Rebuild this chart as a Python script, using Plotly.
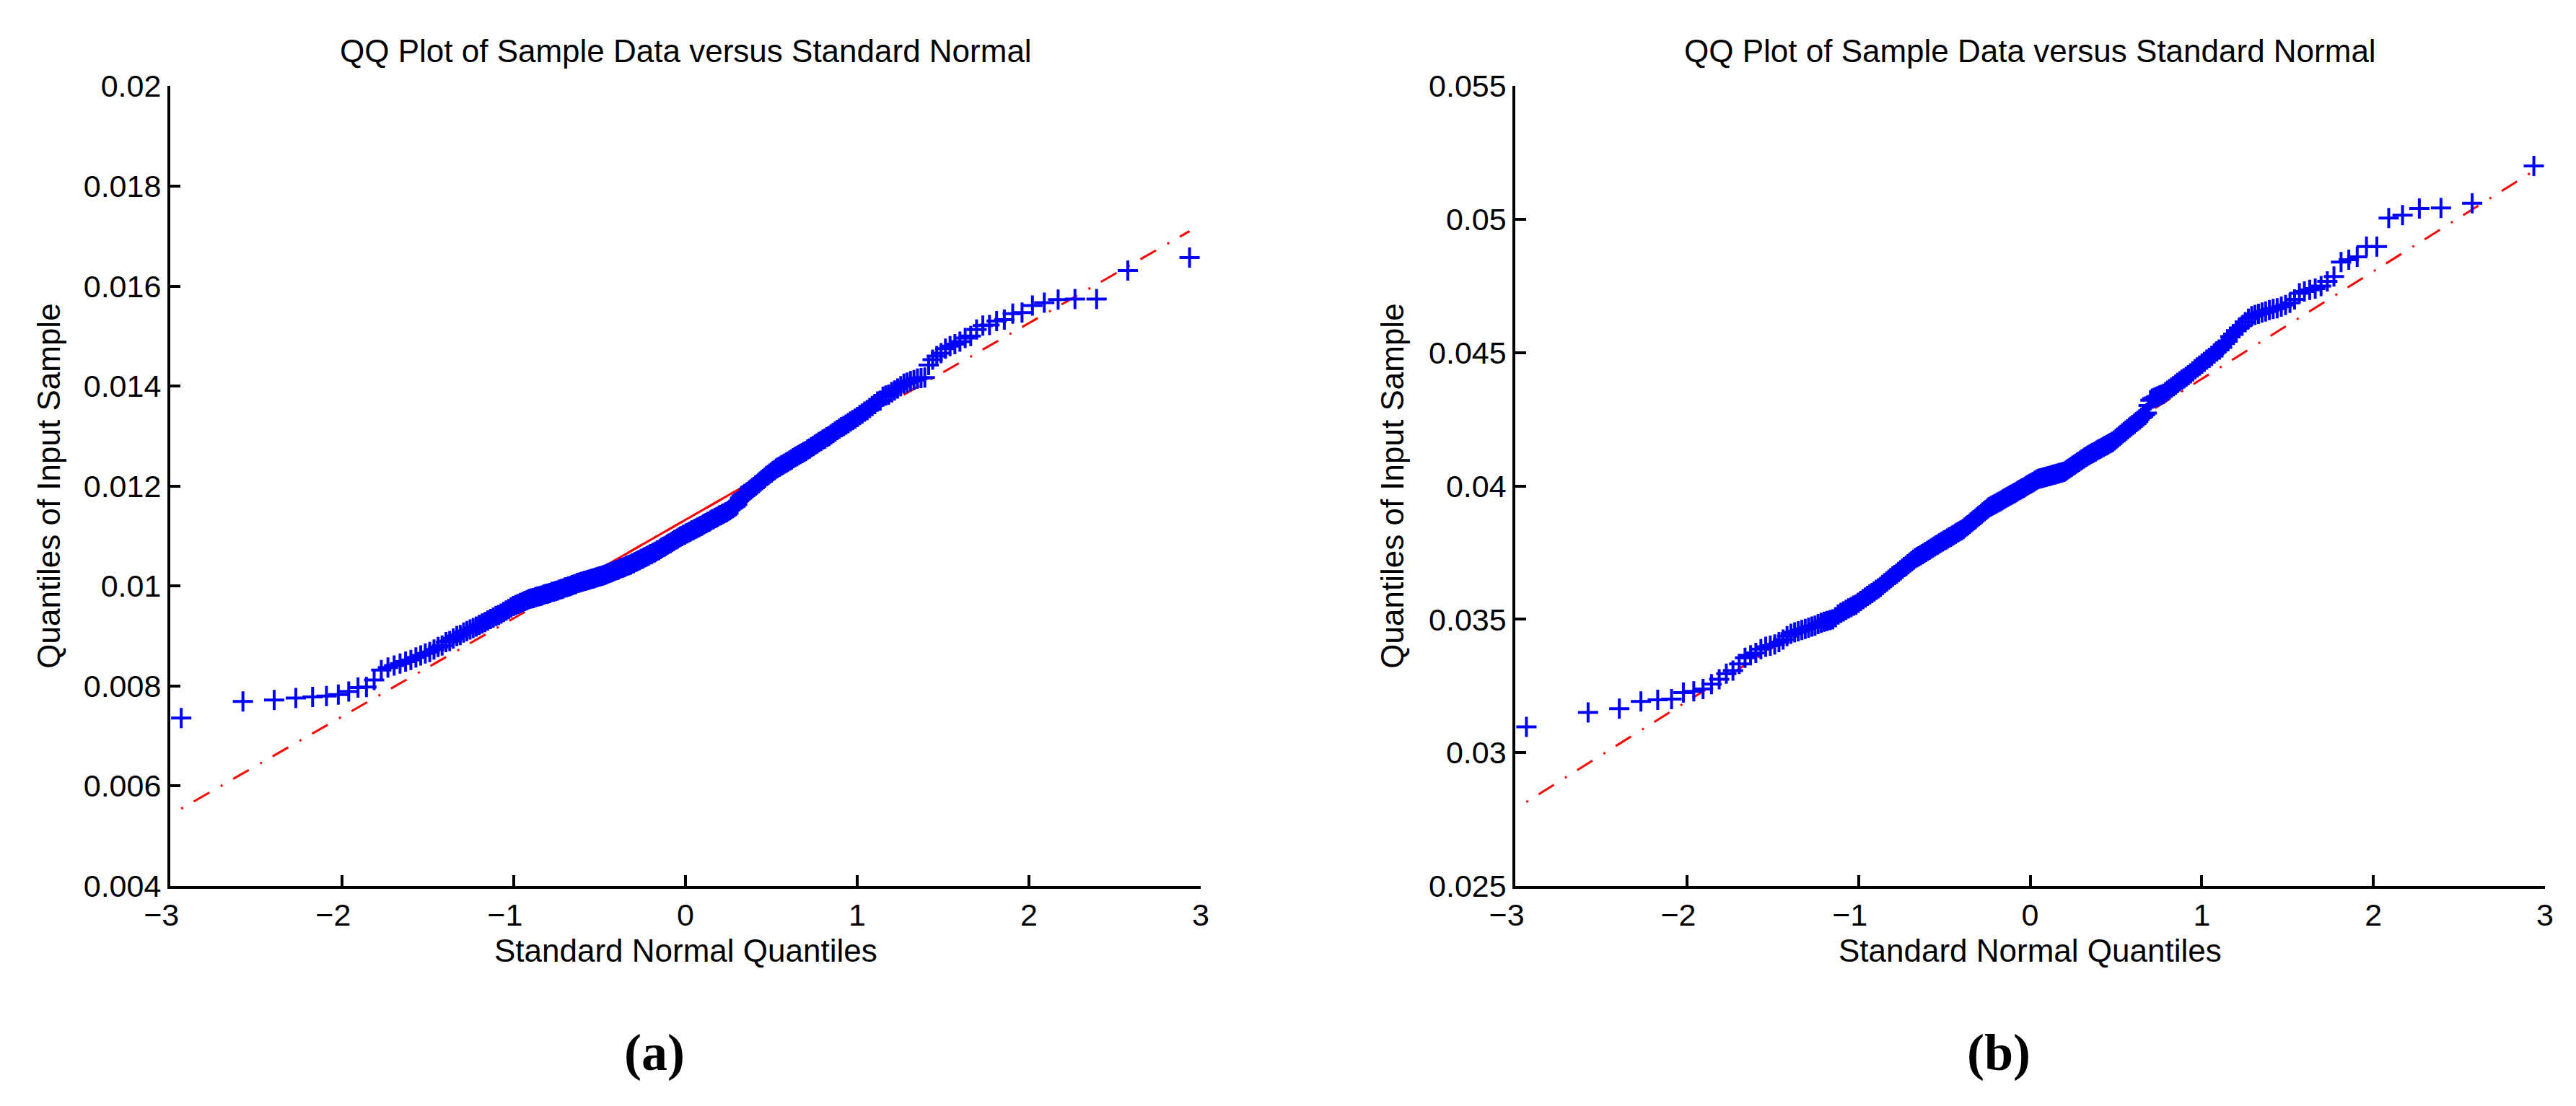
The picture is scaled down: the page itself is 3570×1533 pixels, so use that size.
import numpy as np
import plotly.graph_objects as go
from statistics import NormalDist

# ---------------- data (sorted sample quantiles) ----------------
sample_a = [
    0.00736, 0.00769, 0.00772, 0.00776, 0.00778, 0.00780, 0.00783, 0.00789, 0.00797, 0.00798,
    0.00812, 0.00832, 0.00837, 0.00841, 0.00845, 0.00849, 0.00852, 0.00857, 0.00861, 0.00865,
    0.00868, 0.00873, 0.00878, 0.00881, 0.00888, 0.00890, 0.00895, 0.00900, 0.00902, 0.00907,
    0.00910, 0.00913, 0.00916, 0.00919, 0.00922, 0.00925, 0.00928, 0.00931, 0.00934, 0.00937,
    0.00940, 0.00942, 0.00945, 0.00948, 0.00951, 0.00954, 0.00957, 0.00960, 0.00962, 0.00964,
    0.00966, 0.00968, 0.00970, 0.00972, 0.00974, 0.00975, 0.00976, 0.00978, 0.00979, 0.00980,
    0.00981, 0.00983, 0.00984, 0.00985, 0.00986, 0.00988, 0.00989, 0.00990, 0.00991, 0.00993,
    0.00994, 0.00995, 0.00997, 0.00998, 0.00999, 0.01000, 0.01002, 0.01003, 0.01004, 0.01006,
    0.01007, 0.01008, 0.01009, 0.01010, 0.01011, 0.01012, 0.01013, 0.01014, 0.01015, 0.01016,
    0.01017, 0.01018, 0.01019, 0.01020, 0.01021, 0.01022, 0.01023, 0.01025, 0.01026, 0.01027,
    0.01028, 0.01030, 0.01031, 0.01032, 0.01033, 0.01035, 0.01036, 0.01037, 0.01038, 0.01040,
    0.01041, 0.01042, 0.01043, 0.01045, 0.01046, 0.01048, 0.01049, 0.01051, 0.01052, 0.01054,
    0.01055, 0.01057, 0.01058, 0.01060, 0.01061, 0.01063, 0.01064, 0.01066, 0.01067, 0.01069,
    0.01071, 0.01072, 0.01074, 0.01076, 0.01078, 0.01079, 0.01081, 0.01083, 0.01085, 0.01086,
    0.01088, 0.01090, 0.01092, 0.01093, 0.01095, 0.01097, 0.01099, 0.01100, 0.01102, 0.01103,
    0.01105, 0.01106, 0.01108, 0.01109, 0.01111, 0.01112, 0.01114, 0.01115, 0.01117, 0.01118,
    0.01120, 0.01121, 0.01123, 0.01125, 0.01126, 0.01128, 0.01129, 0.01131, 0.01133, 0.01134,
    0.01136, 0.01137, 0.01139, 0.01141, 0.01142, 0.01144, 0.01145, 0.01147, 0.01148, 0.01150,
    0.01152, 0.01154, 0.01156, 0.01158, 0.01160, 0.01163, 0.01170, 0.01176, 0.01180, 0.01182,
    0.01184, 0.01186, 0.01188, 0.01191, 0.01193, 0.01196, 0.01198, 0.01201, 0.01203, 0.01206,
    0.01209, 0.01212, 0.01214, 0.01217, 0.01220, 0.01222, 0.01225, 0.01227, 0.01230, 0.01232,
    0.01235, 0.01237, 0.01239, 0.01241, 0.01243, 0.01245, 0.01247, 0.01249, 0.01251, 0.01253,
    0.01256, 0.01258, 0.01260, 0.01262, 0.01264, 0.01266, 0.01268, 0.01270, 0.01273, 0.01275,
    0.01278, 0.01280, 0.01283, 0.01285, 0.01288, 0.01290, 0.01293, 0.01295, 0.01298, 0.01300,
    0.01303, 0.01306, 0.01309, 0.01312, 0.01315, 0.01318, 0.01320, 0.01323, 0.01326, 0.01329,
    0.01332, 0.01335, 0.01338, 0.01342, 0.01345, 0.01349, 0.01352, 0.01356, 0.01360, 0.01364,
    0.01369, 0.01371, 0.01379, 0.01381, 0.01383, 0.01388, 0.01391, 0.01395, 0.01400, 0.01405,
    0.01407, 0.01410, 0.01412, 0.01415, 0.01416, 0.01417, 0.01442, 0.01453, 0.01460, 0.01466,
    0.01475, 0.01480, 0.01484, 0.01489, 0.01496, 0.01500, 0.01513, 0.01521, 0.01522, 0.01530,
    0.01533, 0.01545, 0.01547, 0.01561, 0.01567, 0.01573, 0.01574, 0.01574, 0.01631, 0.01657,
]

sample_b = [
    0.03097, 0.03151, 0.03165, 0.03192, 0.03198, 0.03201, 0.03225, 0.03230, 0.03239, 0.03257,
    0.03275, 0.03296, 0.03308, 0.03333, 0.03356, 0.03365, 0.03374, 0.03388, 0.03397, 0.03401,
    0.03406, 0.03415, 0.03424, 0.03437, 0.03446, 0.03451, 0.03455, 0.03460, 0.03464, 0.03469,
    0.03473, 0.03476, 0.03482, 0.03487, 0.03491, 0.03494, 0.03497, 0.03500, 0.03508, 0.03518,
    0.03524, 0.03530, 0.03536, 0.03541, 0.03546, 0.03551, 0.03555, 0.03562, 0.03569, 0.03576,
    0.03582, 0.03588, 0.03593, 0.03599, 0.03605, 0.03611, 0.03616, 0.03622, 0.03629, 0.03636,
    0.03642, 0.03649, 0.03655, 0.03661, 0.03666, 0.03672, 0.03678, 0.03684, 0.03690, 0.03696,
    0.03701, 0.03707, 0.03713, 0.03718, 0.03724, 0.03729, 0.03733, 0.03737, 0.03741, 0.03745,
    0.03749, 0.03753, 0.03757, 0.03761, 0.03765, 0.03769, 0.03773, 0.03777, 0.03781, 0.03785,
    0.03789, 0.03792, 0.03796, 0.03799, 0.03803, 0.03807, 0.03810, 0.03814, 0.03817, 0.03821,
    0.03825, 0.03828, 0.03832, 0.03835, 0.03839, 0.03844, 0.03849, 0.03853, 0.03858, 0.03863,
    0.03868, 0.03872, 0.03877, 0.03882, 0.03887, 0.03891, 0.03896, 0.03901, 0.03906, 0.03910,
    0.03915, 0.03920, 0.03923, 0.03926, 0.03929, 0.03932, 0.03935, 0.03938, 0.03941, 0.03944,
    0.03947, 0.03951, 0.03954, 0.03957, 0.03960, 0.03963, 0.03966, 0.03969, 0.03972, 0.03975,
    0.03978, 0.03982, 0.03985, 0.03988, 0.03991, 0.03994, 0.03997, 0.04001, 0.04004, 0.04007,
    0.04010, 0.04013, 0.04016, 0.04020, 0.04023, 0.04026, 0.04028, 0.04029, 0.04031, 0.04032,
    0.04034, 0.04035, 0.04037, 0.04038, 0.04040, 0.04041, 0.04043, 0.04044, 0.04046, 0.04047,
    0.04049, 0.04050, 0.04052, 0.04053, 0.04057, 0.04061, 0.04065, 0.04068, 0.04072, 0.04076,
    0.04080, 0.04084, 0.04088, 0.04091, 0.04095, 0.04099, 0.04103, 0.04107, 0.04110, 0.04114,
    0.04117, 0.04121, 0.04124, 0.04127, 0.04130, 0.04134, 0.04137, 0.04140, 0.04143, 0.04147,
    0.04150, 0.04153, 0.04156, 0.04160, 0.04163, 0.04166, 0.04171, 0.04177, 0.04182, 0.04187,
    0.04192, 0.04198, 0.04203, 0.04208, 0.04213, 0.04219, 0.04224, 0.04229, 0.04234, 0.04240,
    0.04245, 0.04250, 0.04256, 0.04261, 0.04267, 0.04274, 0.04302, 0.04322, 0.04328, 0.04331,
    0.04334, 0.04337, 0.04340, 0.04343, 0.04346, 0.04352, 0.04358, 0.04364, 0.04369, 0.04375,
    0.04381, 0.04387, 0.04393, 0.04399, 0.04404, 0.04410, 0.04416, 0.04423, 0.04430, 0.04438,
    0.04445, 0.04452, 0.04459, 0.04466, 0.04474, 0.04481, 0.04488, 0.04497, 0.04505, 0.04512,
    0.04520, 0.04534, 0.04543, 0.04561, 0.04570, 0.04583, 0.04592, 0.04601, 0.04615, 0.04628,
    0.04637, 0.04642, 0.04646, 0.04651, 0.04655, 0.04660, 0.04664, 0.04667, 0.04673, 0.04679,
    0.04687, 0.04700, 0.04723, 0.04730, 0.04736, 0.04741, 0.04750, 0.04768, 0.04786, 0.04840,
    0.04849, 0.04860, 0.04898, 0.04898, 0.05005, 0.05016, 0.05041, 0.05043, 0.05061, 0.05201,
]

x_ticks = [-3, -2, -1, 0, 1, 2, 3]
x_tick_labels = ["\u22123\u00a0\u00a0", "\u22122\u00a0\u00a0", "\u22121\u00a0\u00a0", "0", "1", "2", "3"]
y_ticks_a = [0.004, 0.006, 0.008, 0.01, 0.012, 0.014, 0.016, 0.018, 0.02]
y_tick_labels_a = ["0.004", "0.006", "0.008", "0.01", "0.012", "0.014", "0.016", "0.018", "0.02"]
y_ticks_b = [0.025, 0.03, 0.035, 0.04, 0.045, 0.05, 0.055]
y_tick_labels_b = ["0.025", "0.03", "0.035", "0.04", "0.045", "0.05", "0.055"]

title_text = "QQ Plot of Sample Data versus Standard Normal"
x_title = "Standard Normal Quantiles"
y_title = "Quantiles of Input Sample"
panel_labels = ["(a)", "(b)"]

# page is 3570x1533; the html body has an 8px default margin, so the figure is
# drawn 16px smaller and all target page positions are shifted by that margin
PAGE_W, PAGE_H = 3570, 1533
OFF = 8
W, H = PAGE_W - 2 * OFF, PAGE_H - 2 * OFF
FONT = "Liberation Sans, Arial, Helvetica, sans-serif"


def px(xp):
    return (xp - OFF) / W


def py(yp):
    return 1 - (yp - OFF) / H


def qq(sample):
    y = np.sort(np.asarray(sample, dtype=float))
    n = len(y)
    nd = NormalDist()
    x = np.array([nd.inv_cdf((i - 0.5) / n) for i in range(1, n + 1)])
    # reference line through first and third quartiles (as MATLAB qqplot)
    q1x, q3x = np.percentile(x, [25, 75], method="hazen")
    q1y, q3y = np.percentile(y, [25, 75], method="hazen")
    slope = (q3y - q1y) / (q3x - q1x)
    icpt = q1y - slope * q1x
    ext_x = np.array([x.min(), x.max()])
    ext_y = icpt + slope * ext_x
    seg_x = np.array([q1x, q3x])
    seg_y = np.array([q1y, q3y])
    return x, y, ext_x, ext_y, seg_x, seg_y


fig = go.Figure()

for sample, xa, ya in [(sample_a, "x", "y"), (sample_b, "x2", "y2")]:
    x, y, ext_x, ext_y, seg_x, seg_y = qq(sample)
    fig.add_trace(go.Scatter(x=ext_x, y=ext_y, mode="lines", xaxis=xa, yaxis=ya,
                             line=dict(color="#ff0000", width=3, dash="3px,17px,25px,18px"),
                             showlegend=False, hoverinfo="skip"))
    fig.add_trace(go.Scatter(x=seg_x, y=seg_y, mode="lines", xaxis=xa, yaxis=ya,
                             line=dict(color="#ff0000", width=3),
                             showlegend=False, hoverinfo="skip"))
    fig.add_trace(go.Scatter(x=x, y=y, mode="markers", xaxis=xa, yaxis=ya, cliponaxis=False,
                             marker=dict(symbol="cross-thin", size=20, color="#0000ff",
                                         line=dict(color="#0000ff", width=4)),
                             showlegend=False))

axis_common = dict(showgrid=False, zeroline=False, showline=True, linecolor="black", linewidth=3.5,
                   ticks="inside", ticklen=15, tickwidth=3.5, tickcolor="black", automargin=False,
                   tickfont=dict(family=FONT, size=43, color="black"), mirror=False)

dom_xa = [px(235.7), px(1664)]
dom_xb = [px(2100), px(3527)]
dom_y = [py(1228), py(119.4)]

fig.update_layout(
    template="none",
    width=W, height=H, margin=dict(l=0, r=0, t=0, b=0, pad=0, autoexpand=False),
    paper_bgcolor="white", plot_bgcolor="white", showlegend=False,
    xaxis=dict(domain=dom_xa, range=[-3, 3], tickvals=x_ticks, ticktext=x_tick_labels,
               anchor="y", **axis_common),
    yaxis=dict(domain=dom_y, range=[0.004, 0.02], tickvals=y_ticks_a, ticktext=y_tick_labels_a,
               anchor="x", **axis_common),
    xaxis2=dict(domain=dom_xb, range=[-3, 3], tickvals=x_ticks, ticktext=x_tick_labels,
                anchor="y2", **axis_common),
    yaxis2=dict(domain=dom_y, range=[0.025, 0.055], tickvals=y_ticks_b, ticktext=y_tick_labels_b,
                anchor="x2", **axis_common),
)

tfont = dict(family=FONT, size=44, color="black")
ann = []
for cx, ytx, lab in [(950, 68, panel_labels[0]), (2813, 1930, panel_labels[1])]:
    ann.append(dict(text=title_text, x=px(cx), y=py(71), xref="paper", yref="paper",
                    xanchor="center", yanchor="middle", showarrow=False, font=tfont))
    ann.append(dict(text=x_title, x=px(cx), y=py(1317), xref="paper", yref="paper",
                    xanchor="center", yanchor="middle", showarrow=False, font=tfont))
    ann.append(dict(text=y_title, x=px(ytx), y=py(673.7), xref="paper", yref="paper",
                    xanchor="center", yanchor="middle", showarrow=False, textangle=-90, font=tfont))
    ann.append(dict(text="<b>" + lab + "</b>", x=px(cx - 43), y=py(1459),
                    xref="paper", yref="paper", xanchor="center", yanchor="middle", showarrow=False,
                    font=dict(family="Liberation Serif, Times New Roman, serif", size=72, color="black")))
fig.update_layout(annotations=ann)

fig.write_html("out.html")
